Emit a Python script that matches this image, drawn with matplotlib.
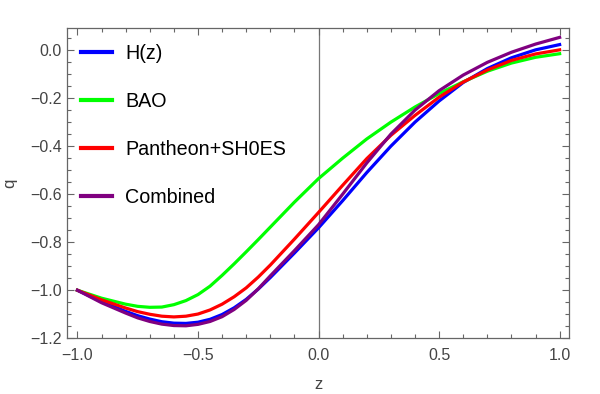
import numpy as np
import matplotlib; matplotlib.use("Agg")
import matplotlib.pyplot as plt
from matplotlib.ticker import MultipleLocator

# values (denser where the curves bend most)
z = [-1.0, -0.9, -0.8, -0.75, -0.7, -0.65, -0.6, -0.55, -0.5, -0.45, -0.4, -0.35, -0.3, -0.25,
     -0.2, -0.1, 0.0, 0.1, 0.2, 0.3, 0.4, 0.5, 0.6, 0.7, 0.8, 0.9, 1.0]
q_hz = [-1.0, -1.047, -1.088, -1.106, -1.120, -1.131, -1.137, -1.138, -1.133, -1.121, -1.101,
        -1.073, -1.038, -0.995, -0.947, -0.845, -0.740,
        -0.627, -0.510, -0.400, -0.300, -0.212, -0.135, -0.077, -0.032, 0.001, 0.023]
q_bao = [-1.0, -1.033, -1.058, -1.067, -1.071, -1.070, -1.060, -1.043, -1.018, -0.983, -0.938,
         -0.890, -0.840, -0.789, -0.737, -0.633, -0.535,
         -0.450, -0.370, -0.300, -0.237, -0.181, -0.132, -0.088, -0.054, -0.030, -0.015]
q_pan = [-1.0, -1.040, -1.074, -1.089, -1.100, -1.108, -1.111, -1.108, -1.099, -1.082, -1.058,
         -1.027, -0.990, -0.945, -0.895, -0.787, -0.676,
         -0.563, -0.452, -0.355, -0.272, -0.196, -0.133, -0.083, -0.043, -0.016, 0.001]
q_comb = [-1.0, -1.052, -1.095, -1.115, -1.130, -1.141, -1.147, -1.148, -1.142, -1.130, -1.110,
          -1.080, -1.042, -0.994, -0.940, -0.835, -0.727,
          -0.600, -0.470, -0.350, -0.250, -0.169, -0.104, -0.051, -0.009, 0.025, 0.053]

labels = ["H(z)", "BAO", "Pantheon+SH0ES", "Combined"]
colors = ["#0000ff", "#00ff00", "#ff0000", "#800080"]

plt.rcParams["font.family"] = ["Liberation Sans", "DejaVu Sans"]
gray = "#666666"
txt = "#444444"

fig = plt.figure(figsize=(6, 3.94), dpi=100)
ax = fig.add_axes([0.1122, 0.1414, 0.8366, 0.7863])

ax.axvline(0, color="#777777", lw=0.9, zorder=1)
for q, lab, c in zip([q_hz, q_bao, q_pan, q_comb], labels, colors):
    ax.plot(z, q, color=c, lw=2.3, label=lab, zorder=3)

ax.set_xlim(-1.042, 1.04)
ax.set_ylim(-1.2, 0.09)
ax.xaxis.set_major_locator(MultipleLocator(0.5))
ax.xaxis.set_minor_locator(MultipleLocator(0.1))
ax.yaxis.set_major_locator(MultipleLocator(0.2))
ax.yaxis.set_minor_locator(MultipleLocator(0.05))
ax.xaxis.set_major_formatter(lambda v, p: f"{v:.1f}".replace("-", "\u2212"))
ax.yaxis.set_major_formatter(lambda v, p: f"{v:.1f}".replace("-", "\u2212"))

ax.tick_params(which="both", direction="in", top=True, right=True, color=gray,
               labelcolor=txt, labelsize=11.5, width=0.8)
ax.tick_params(which="major", length=5)
ax.tick_params(which="minor", length=3)
ax.tick_params(axis="x", pad=7)
ax.tick_params(axis="y", pad=4)
for s in ax.spines.values():
    s.set_color(gray)
    s.set_linewidth(0.9)

ax.set_xlabel("z", color=txt, fontsize=12, labelpad=10)
ax.set_ylabel("q", color=txt, fontsize=12, labelpad=9)

leg = ax.legend(loc="upper left", bbox_to_anchor=(0.012, 0.975), frameon=False,
                fontsize=14.2, handlelength=1.57, handletextpad=0.66,
                labelspacing=1.47, borderaxespad=0.0, borderpad=0.4)
for line in leg.get_lines():
    line.set_linewidth(3)

fig.savefig("out.png", dpi=100)
